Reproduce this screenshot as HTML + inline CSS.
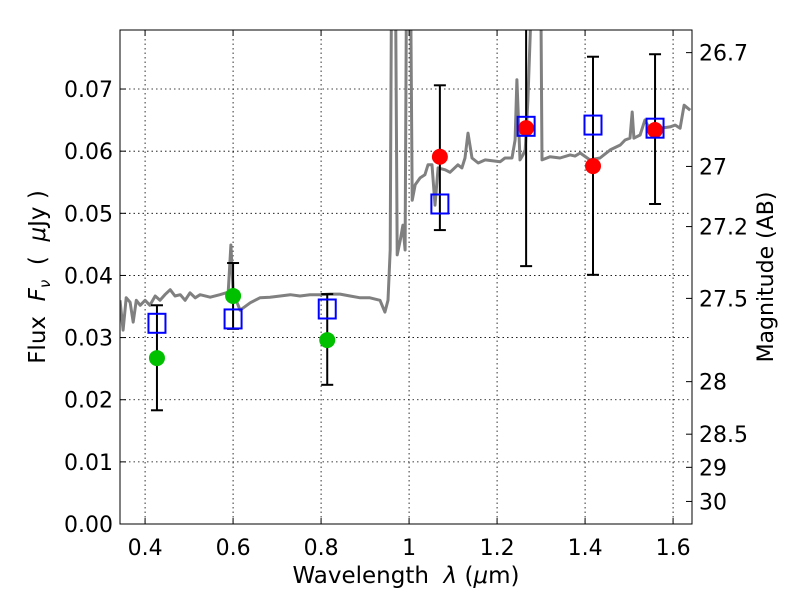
<!DOCTYPE html>
<html><head><meta charset="utf-8"><style>
body{margin:0;background:#fff}
svg text{font-family:"DejaVu Sans","Liberation Sans",sans-serif;fill:#000}
</style></head><body>
<svg id="chart" width="800" height="600" xmlns="http://www.w3.org/2000/svg">
<defs><clipPath id="clip"><rect x="120" y="30" width="572" height="494"/></clipPath></defs>
<g id="grid"></g>
<g id="spec" clip-path="url(#clip)"></g>
<g id="marks" clip-path="url(#clip)"></g>
<rect x="120" y="30" width="572" height="494" fill="none" stroke="#000" stroke-width="1"/>
<g id="axes"></g>
<text x="406" y="583" font-size="23" text-anchor="middle" xml:space="preserve">Wavelength  <tspan font-style="italic">λ</tspan> (<tspan font-style="italic">μ</tspan>m)</text>
<text transform="translate(45,277) rotate(-90)" font-size="23" text-anchor="middle" xml:space="preserve">Flux  <tspan font-style="italic">F<tspan font-size="15" dy="5">ν</tspan></tspan><tspan dy="-5">  (  </tspan><tspan font-style="italic">μ</tspan>Jy )</text>
<text transform="translate(773,277) rotate(-90)" font-size="22" text-anchor="middle">Magnitude (AB)</text>
</svg>
<script>
const specLam=[0.343,0.35,0.357,0.366,0.373,0.38,0.389,0.4,0.411,0.423,0.434,0.445,0.457,0.468,0.48,0.491,0.502,0.514,0.525,0.548,0.57,0.589,0.595,0.6,0.607,0.616,0.639,0.661,0.684,0.707,0.73,0.752,0.775,0.798,0.82,0.843,0.866,0.889,0.911,0.934,0.945,0.952,0.957,0.961,0.968,0.973,0.98,0.986,0.991,0.995,1.002,1.007,1.014,1.025,1.036,1.043,1.052,1.059,1.066,1.082,1.093,1.111,1.12,1.127,1.134,1.143,1.157,1.173,1.207,1.218,1.234,1.241,1.245,1.252,1.259,1.264,1.27,1.286,1.298,1.302,1.32,1.343,1.366,1.377,1.389,1.411,1.434,1.457,1.48,1.491,1.502,1.507,1.511,1.525,1.536,1.548,1.57,1.593,1.605,1.616,1.625,1.639];
const specFlux=[0.036,0.0312,0.0364,0.0357,0.0325,0.036,0.0352,0.036,0.0352,0.0367,0.036,0.0369,0.0377,0.0367,0.0369,0.036,0.0372,0.0364,0.0369,0.0365,0.0369,0.0373,0.0449,0.0375,0.036,0.0344,0.0356,0.0364,0.0365,0.0367,0.0369,0.0367,0.0369,0.0369,0.037,0.037,0.0367,0.0364,0.0364,0.036,0.0341,0.036,0.0441,0.1,0.1,0.0433,0.0457,0.0481,0.0441,0.1,0.1,0.0521,0.0546,0.0557,0.0562,0.0578,0.0578,0.0513,0.0573,0.057,0.0566,0.0578,0.0573,0.0589,0.0629,0.0589,0.0581,0.0586,0.0583,0.0589,0.0589,0.0618,0.0715,0.0586,0.0594,0.0602,0.0682,0.1,0.1,0.0586,0.0591,0.0589,0.0594,0.0592,0.0597,0.0586,0.0589,0.0602,0.061,0.0618,0.0621,0.0663,0.0621,0.0626,0.065,0.0634,0.0637,0.0639,0.0642,0.0637,0.0674,0.0666];
const obsLam=[0.427,0.6,0.814,1.07,1.266,1.418,1.559];
const obsFlux=[0.0267,0.0367,0.0296,0.0591,0.0637,0.0576,0.0634];
const errLow=[0.0183,0.0314,0.0224,0.0473,0.0415,0.0401,0.0515];
const errHigh=[0.0352,0.042,0.037,0.0706,0.0845,0.0752,0.0756];
const obsColor=['#00c000','#00c000','#00c000','#ff0000','#ff0000','#ff0000','#ff0000'];
const modelFlux=[0.0323,0.033,0.0346,0.0515,0.064,0.0642,0.0637];
const xTicks=[0.4,0.6,0.8,1.0,1.2,1.4,1.6];
const xTickLabels=['0.4','0.6','0.8','1','1.2','1.4','1.6'];
const yTicks=[0,0.01,0.02,0.03,0.04,0.05,0.06,0.07];
const yTickLabels=['0.00','0.01','0.02','0.03','0.04','0.05','0.06','0.07'];
const magTicks=[26.7,27,27.2,27.5,28,28.5,29,30];
const magTickLabels=['26.7','27','27.2','27.5','28','28.5','29','30'];

const X0=120,X1=692,Y0=524,Y1=30,XMIN=0.343,XMAX=1.643,YMIN=0,YMAX=0.0795;
const sx=v=>X0+(v-XMIN)/(XMAX-XMIN)*(X1-X0);
const sy=v=>Y0-(v-YMIN)/(YMAX-YMIN)*(Y0-Y1);
const NS='http://www.w3.org/2000/svg';
function mk(tag,attrs,parent){const e=document.createElementNS(NS,tag);for(const k in attrs)e.setAttribute(k,attrs[k]);parent.appendChild(e);return e;}
const grid=document.getElementById('grid'),axes=document.getElementById('axes'),spec=document.getElementById('spec'),marks=document.getElementById('marks');
xTicks.forEach((t,i)=>{const x=sx(t);
 const g=mk('line',{x1:x,x2:x,y1:Y1,y2:Y0,stroke:'#000','stroke-dasharray':'1.5,3','stroke-width':0.8},grid);
 
 mk('line',{x1:x,x2:x,y1:Y0,y2:Y0-6,stroke:'#000'},axes);mk('line',{x1:x,x2:x,y1:Y1,y2:Y1+6,stroke:'#000'},axes);
 const l=mk('text',{x:x,y:Y0+31,'font-size':22,'text-anchor':'middle'},axes);l.textContent=xTickLabels[i];
 });
yTicks.forEach((t,i)=>{const y=sy(t);
 if(t>0){const g=mk('line',{x1:X0,x2:X1,y1:y,y2:y,stroke:'#000','stroke-dasharray':'1.5,3','stroke-width':0.8},grid);
 }
 mk('line',{x1:X0,x2:X0+6,y1:y,y2:y,stroke:'#000'},axes);
 const l=mk('text',{x:X0-7,y:y+8,'font-size':22,'text-anchor':'end'},axes);l.textContent=yTickLabels[i];
 });
magTicks.forEach((m,i)=>{const y=sy(Math.pow(10,-(m-23.9)/2.5));
 mk('line',{x1:X1,x2:X1-6,y1:y,y2:y,stroke:'#000'},axes);
 const l=mk('text',{x:X1+7,y:y+8,'font-size':22},axes);l.textContent=magTickLabels[i];
 });
const p=mk('polyline',{points:specLam.map((l,i)=>sx(l).toFixed(1)+','+sy(specFlux[i]).toFixed(1)).join(' '),fill:'none',stroke:'#808080','stroke-width':3,'stroke-linejoin':'round'},spec);

obsLam.forEach((l,i)=>{const x=sx(l);
 const e=mk('g',{},marks);
 
 mk('line',{x1:x,x2:x,y1:sy(errLow[i]),y2:sy(errHigh[i]),stroke:'#000','stroke-width':2},e);
 mk('line',{x1:x-6,x2:x+6,y1:sy(errLow[i]),y2:sy(errLow[i]),stroke:'#000','stroke-width':2},e);
 mk('line',{x1:x-6,x2:x+6,y1:sy(errHigh[i]),y2:sy(errHigh[i]),stroke:'#000','stroke-width':2},e);
 const c=mk('circle',{cx:x,cy:sy(obsFlux[i]),r:8,fill:obsColor[i]},marks);
 
 const s=mk('rect',{x:x-8.5,y:sy(modelFlux[i])-9.5,width:17,height:19,fill:'none',stroke:'#0000ff','stroke-width':2},marks);
 });
</script>
</body></html>
